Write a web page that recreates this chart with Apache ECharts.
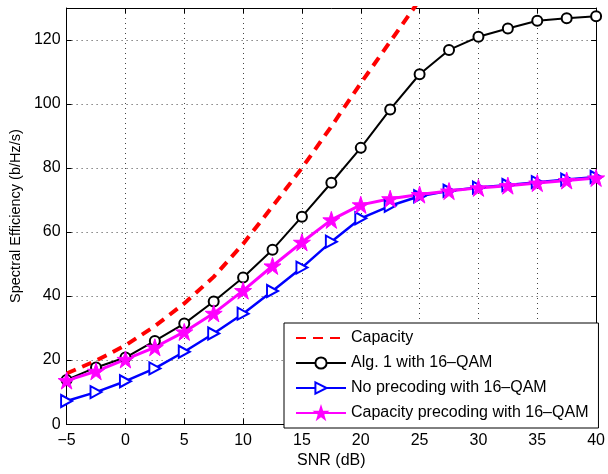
<!DOCTYPE html>
<html>
<head>
<meta charset="utf-8">
<script src="https://cdn.jsdelivr.net/npm/echarts@6/dist/echarts.min.js"></script>
<style>
  html, body { margin: 0; padding: 0; background: #fff; }
</style>
</head>
<body>
<div id="chart" style="width: 608px; height: 474px"></div>
<script>
// SNR points (dB)
var snr = [-5, -2.5, 0, 2.5, 5, 7.5, 10, 12.5, 15, 17.5, 20, 22.5, 25, 27.5, 30, 32.5, 35, 37.5, 40];

var capacity = [15.8, 19.8, 24.6, 30.6, 37.7, 46, 56.3, 68, 80, 93, 106.5, 119.5, 132.5];
var alg1 = [13.8, 17.7, 20.8, 26, 31.4, 38.3, 45.8, 54.5, 64.8, 75.4, 86.3, 98.3, 109.3, 116.9, 121, 123.6, 126, 126.8, 127.4];
var noPrecoding = [7.2, 10, 13.4, 17.4, 22.6, 28.3, 34.5, 41.6, 48.9, 57, 64.3, 68.2, 71.2, 72.9, 73.9, 74.7, 75.6, 76.4, 77.2];
var capPrecoding = [13.6, 16.5, 20.2, 24, 28.8, 34.6, 41.7, 49.4, 56.8, 63.8, 68.5, 70.4, 71.7, 72.8, 73.8, 74.5, 75.3, 76.1, 76.9];

var seriesNames = ['Capacity', 'Alg. 1 with 16\u2013QAM', 'No precoding with 16\u2013QAM', 'Capacity precoding with 16\u2013QAM'];

function pairs(ys) {
  return ys.map(function (y, i) { return [snr[i], y]; });
}

var font = 'Liberation Sans, Arial, Helvetica, sans-serif';
var starPath = 'path://M5,0L6.18,3.62L10,3.62L6.91,5.86L8.09,9.51L5,7.24L1.91,9.51L3.09,5.86L0,3.62L3.82,3.62Z';
var triPath = 'path://M0,0L10,5L0,10Z';

var chart = echarts.init(document.getElementById('chart'));

var gridLine = { show: true, lineStyle: { color: '#444', width: 1, type: [1, 4] } };
var boxLine = { show: true, onZero: false, lineStyle: { color: '#000', width: 1 } };
var boxTick = { show: true, inside: true, length: 5, lineStyle: { color: '#000' } };

chart.setOption({
  animation: false,
  backgroundColor: '#fff',
  grid: { left: 66, right: 10, top: 8, bottom: 45 },
  legend: {
    orient: 'vertical',
    left: 284,
    top: 323,
    padding: [7, 10, 7, 11],
    itemWidth: 50,
    itemHeight: 14,
    itemGap: 9,
    backgroundColor: '#fff',
    borderColor: '#000',
    borderWidth: 1,
    borderRadius: 0,
    textStyle: { fontFamily: font, fontSize: 16, color: '#000' },
    data: [
      { name: seriesNames[0], itemStyle: { opacity: 0 } },
      seriesNames[1],
      seriesNames[2],
      seriesNames[3]
    ]
  },
  xAxis: [
    {
      type: 'value',
      min: -5,
      max: 40,
      interval: 5,
      name: 'SNR (dB)',
      nameLocation: 'middle',
      nameGap: 27,
      nameTextStyle: { fontFamily: font, fontSize: 16, color: '#000' },
      axisLine: boxLine,
      axisTick: boxTick,
      axisLabel: { fontFamily: font, fontSize: 16, color: '#000', margin: 8,
        formatter: function (v) { return String(v).replace('-', '\u2212'); } },
      splitLine: gridLine
    },
    {
      type: 'value',
      position: 'top',
      min: -5,
      max: 40,
      interval: 5,
      axisLine: boxLine,
      axisTick: boxTick,
      axisLabel: { show: false },
      splitLine: { show: false }
    }
  ],
  yAxis: [
    {
      type: 'value',
      min: 0,
      max: 130,
      interval: 20,
      name: 'Spectral Efficiency (b/Hz/s)',
      nameLocation: 'middle',
      nameGap: 41,
      nameTextStyle: { fontFamily: font, fontSize: 14.5, color: '#000' },
      axisLine: boxLine,
      axisTick: boxTick,
      axisLabel: { fontFamily: font, fontSize: 16, color: '#000', margin: 6, showMaxLabel: false },
      splitLine: gridLine
    },
    {
      type: 'value',
      position: 'right',
      min: 0,
      max: 130,
      interval: 20,
      axisLine: boxLine,
      axisTick: boxTick,
      axisLabel: { show: false },
      splitLine: { show: false }
    }
  ],
  series: [
    {
      name: seriesNames[0],
      type: 'line',
      data: pairs(capacity),
      symbol: 'none',
      clip: true,
      itemStyle: { color: '#ff0000' },
      lineStyle: { color: '#ff0000', width: 4, type: [10, 7] }
    },
    {
      name: seriesNames[1],
      type: 'line',
      data: pairs(alg1),
      symbol: 'circle',
      symbolSize: 10,
      itemStyle: { color: '#fff', borderColor: '#000', borderWidth: 2 },
      lineStyle: { color: '#000', width: 2 }
    },
    {
      name: seriesNames[2],
      type: 'line',
      data: pairs(noPrecoding),
      symbol: triPath,
      symbolSize: [11, 12],
      itemStyle: { color: '#fff', borderColor: '#0000ff', borderWidth: 2 },
      lineStyle: { color: '#0000ff', width: 2.5 }
    },
    {
      name: seriesNames[3],
      type: 'line',
      data: pairs(capPrecoding),
      symbol: starPath,
      symbolSize: 17,
      itemStyle: { color: '#ff00ff', borderColor: '#ff00ff', borderWidth: 1 },
      lineStyle: { color: '#ff00ff', width: 3 }
    }
  ]
});
</script>
</body>
</html>
